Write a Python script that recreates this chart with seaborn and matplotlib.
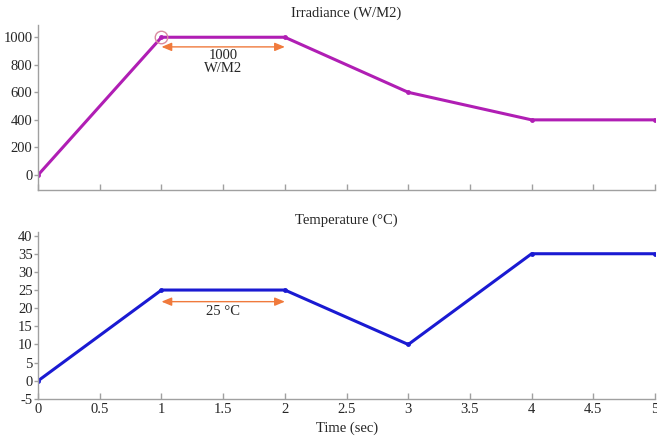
import matplotlib
matplotlib.use("Agg")
import matplotlib.pyplot as plt
import seaborn as sns
import pandas as pd
import numpy as np

time_s = [0, 1, 2, 3, 4, 5]
irradiance = [0, 1000, 1000, 600, 400, 400]
temperature = [0, 25, 25, 10, 35, 35]
x_ticks = [0, 0.5, 1, 1.5, 2, 2.5, 3, 3.5, 4, 4.5, 5]
x_tick_labels = ["0", "0.5", "1", "1.5", "2", "2.5", "3", "3.5", "4", "4.5", "5"]
irr_ticks = [0, 200, 400, 600, 800, 1000]
temp_ticks = [-5, 0, 5, 10, 15, 20, 25, 30, 35, 40]

sns.set_style("white")
plt.rcParams['font.family'] = ['Liberation Serif', 'DejaVu Serif']
plt.rcParams['font.size'] = 10
plt.rcParams['axes.unicode_minus'] = False

df = pd.DataFrame({"t": time_s, "irr": irradiance, "temp": temperature})

fig = plt.figure(figsize=(6.57, 4.36), dpi=100)
ax1 = fig.add_axes([0.058, 0.564, 0.939, 0.379])
ax2 = fig.add_axes([0.058, 0.085, 0.939, 0.383])

spine_col = "#a0a0a0"
for ax in (ax1, ax2):
    for s in ("top", "right"):
        ax.spines[s].set_visible(False)
    for s in ("left", "bottom"):
        ax.spines[s].set_color(spine_col)
        ax.spines[s].set_linewidth(1.0)
    ax.tick_params(axis="x", bottom=True, direction="in", length=4, width=1.0,
                   color=spine_col, labelsize=10.5, pad=3)
    ax.tick_params(axis="y", left=True, direction="out", length=3, width=1.0,
                   color=spine_col, labelsize=10.5, pad=1)
    ax.set_xlim(0, 5)
    ax.set_xticks(x_ticks)

sns.lineplot(data=df, x="t", y="irr", ax=ax1, color="#b01eb4", linewidth=2.2,
             marker="o", markersize=3.5, markeredgewidth=0)
ax1.set_ylim(-110, 1090)
ax1.set_yticks(irr_ticks)
ax1.set_xticklabels([])
ax1.set_xlabel("")
ax1.set_ylabel("")
ax1.set_title("Irradiance (W/M2)", fontsize=10.5, pad=6)
ax1.plot([time_s[1]], [irradiance[1]], marker="o", markersize=9, markerfacecolor="none",
         markeredgecolor="#d98aa0", markeredgewidth=1.0, linestyle="none")
ax1.annotate("", xy=(1.0, 930), xytext=(2.0, 930),
             arrowprops=dict(arrowstyle="<|-|>,head_length=0.6,head_width=0.25",
                             color="#f07a3c", lw=1.0, shrinkA=0, shrinkB=0))
ax1.text(1.5, 820, "1000\nW/M2", ha="center", va="center", fontsize=10.5, linespacing=1.05)

sns.lineplot(data=df, x="t", y="temp", ax=ax2, color="#1a1ad2", linewidth=2.2,
             marker="o", markersize=3.5, markeredgewidth=0)
ax2.set_ylim(-5, 41)
ax2.set_yticks(temp_ticks)
ax2.set_xticklabels(x_tick_labels)
ax2.set_ylabel("")
ax2.set_xlabel("Time (sec)", fontsize=10.5, labelpad=4)
ax2.set_title("Temperature (\u00b0C)", fontsize=10.5, pad=6)
ax2.annotate("", xy=(1.0, 21.8), xytext=(2.0, 21.8),
             arrowprops=dict(arrowstyle="<|-|>,head_length=0.6,head_width=0.25",
                             color="#f07a3c", lw=1.0, shrinkA=0, shrinkB=0))
ax2.text(1.5, 19.1, "25 \u00b0C", ha="center", va="center", fontsize=10.5)

fig.savefig("out.png", dpi=100)
